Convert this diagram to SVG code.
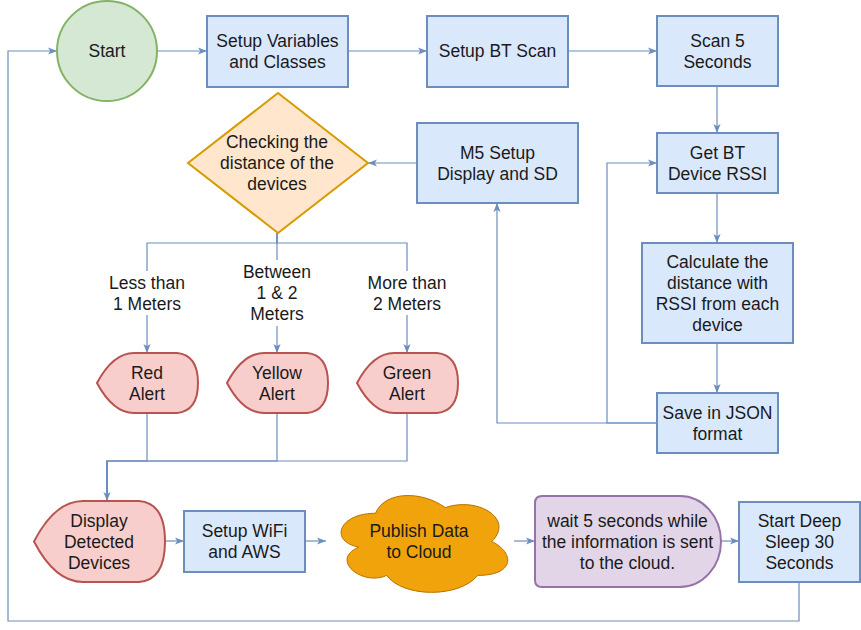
<svg xmlns="http://www.w3.org/2000/svg" width="861" height="630" viewBox="0 0 861 630">
<defs>
<style>
.box{fill:#dae8fc;stroke:#6c8ebf;stroke-width:2}
.alert{fill:#f8cecc;stroke:#b85450;stroke-width:2}
.edge{fill:none;stroke:#6c8ebf;stroke-width:1.2}
text{font-family:"Liberation Sans",Arial,Helvetica,sans-serif;font-size:17.5px;fill:#1a1a1a;text-anchor:middle}
.lbl{fill:#ffffff;stroke:none}
</style>
<marker id="arr" viewBox="0 0 10 10" refX="10" refY="5" markerWidth="9" markerHeight="9" markerUnits="userSpaceOnUse" orient="auto">
<path d="M0,1 L10,5 L0,9 L2.5,5 Z" fill="#6c8ebf"/>
</marker>
</defs>
<rect width="861" height="630" fill="#ffffff"/>

<g id="connectors">
<path class="edge" d="M157,51 H207" marker-end="url(#arr)"/>
<path class="edge" d="M348,51 H427" marker-end="url(#arr)"/>
<path class="edge" d="M568,51 H657" marker-end="url(#arr)"/>
<path class="edge" d="M717,86 V133" marker-end="url(#arr)"/>
<path class="edge" d="M717,193 V243" marker-end="url(#arr)"/>
<path class="edge" d="M717,343 V393" marker-end="url(#arr)"/>
<path class="edge" d="M657,423 H497 V203" marker-end="url(#arr)"/>
<path class="edge" d="M657,423 H607 V163 H657" marker-end="url(#arr)"/>
<path class="edge" d="M417,163 H368" marker-end="url(#arr)"/>
<path class="edge" d="M277,233 V243 H147 V353" marker-end="url(#arr)"/>
<path class="edge" d="M277,233 V353" marker-end="url(#arr)"/>
<path class="edge" d="M277,233 V243 H407 V353" marker-end="url(#arr)"/>
<path class="edge" d="M147,413 V461 H107 V501"/>
<path class="edge" d="M277,413 V461 H107 V501"/>
<path class="edge" d="M407,413 V461 H107 V501" marker-end="url(#arr)"/>
<path class="edge" d="M107,461 V498" style="stroke-width:2"/>
<path class="edge" d="M165,541 H184" marker-end="url(#arr)"/>
<path class="edge" d="M305,541 H326" marker-end="url(#arr)"/>
<path class="edge" d="M514,541 H535" marker-end="url(#arr)"/>
<path class="edge" d="M721,541 H739" marker-end="url(#arr)"/>
<path class="edge" d="M799,582 V621 H8 V51 H57" marker-end="url(#arr)"/>
<g id="edge-labels">
<rect class="lbl" x="106" y="271" width="82" height="44"/>
<text x="147" y="288.5">Less than</text>
<text x="147" y="309.5">1 Meters</text>
<rect class="lbl" x="238" y="260" width="78" height="66"/>
<text x="277" y="278">Between</text>
<text x="277" y="299">1 &amp; 2</text>
<text x="277" y="320">Meters</text>
<rect class="lbl" x="362" y="271" width="90" height="44"/>
<text x="407" y="288.5">More than</text>
<text x="407" y="309.5">2 Meters</text>
</g>
</g>

<g id="start">
<circle cx="107" cy="51" r="50" fill="#d5e8d4" stroke="#82b366" stroke-width="2"/>
<text x="107" y="57">Start</text>
</g>
<g id="setup-variables">
<rect class="box" x="207" y="16" width="141" height="71"/>
<text x="277.5" y="46.5">Setup Variables</text>
<text x="277.5" y="67.5">and Classes</text>
</g>
<g id="setup-bt-scan">
<rect class="box" x="427" y="16" width="141" height="71"/>
<text x="497.5" y="57">Setup BT Scan</text>
</g>
<g id="scan-5">
<rect class="box" x="657" y="16" width="121" height="70"/>
<text x="717.5" y="46.5">Scan 5</text>
<text x="717.5" y="67.5">Seconds</text>
</g>
<g id="get-bt-rssi">
<rect class="box" x="657" y="133" width="121" height="60"/>
<text x="717.5" y="158.5">Get BT</text>
<text x="717.5" y="179.5">Device RSSI</text>
</g>
<g id="m5-setup">
<rect class="box" x="417" y="123" width="161" height="80"/>
<text x="497.5" y="158.5">M5 Setup</text>
<text x="497.5" y="179.5">Display and SD</text>
</g>
<g id="calculate">
<rect class="box" x="642" y="243" width="151" height="100"/>
<text x="717.5" y="267.5">Calculate the</text>
<text x="717.5" y="288.5">distance with</text>
<text x="717.5" y="309.5">RSSI from each</text>
<text x="717.5" y="330.5">device</text>
</g>
<g id="save-json">
<rect class="box" x="657" y="393" width="121" height="60"/>
<text x="717.5" y="418.5">Save in JSON</text>
<text x="717.5" y="439.5">format</text>
</g>
<g id="checking">
<path d="M278,93 L368,163 L278,233 L188,163 Z" fill="#ffe6cc" stroke="#d79b00" stroke-width="2"/>
<text x="277" y="148">Checking the</text>
<text x="277" y="169">distance of the</text>
<text x="277" y="190">devices</text>
</g>
<g id="red-alert">
<path class="alert" d="M97,383 Q113,353 134,353 L177,353 Q198,355 198,383 Q198,411 177,413 L134,413 Q113,413 97,383 Z"/>
<text x="147" y="378.5">Red</text>
<text x="147" y="399.5">Alert</text>
</g>
<g id="yellow-alert">
<path class="alert" d="M227,383 Q243,353 264,353 L307,353 Q328,355 328,383 Q328,411 307,413 L264,413 Q243,413 227,383 Z"/>
<text x="277" y="378.5">Yellow</text>
<text x="277" y="399.5">Alert</text>
</g>
<g id="green-alert">
<path class="alert" d="M357,383 Q373,353 394,353 L437,353 Q458,355 458,383 Q458,411 437,413 L394,413 Q373,413 357,383 Z"/>
<text x="407" y="378.5">Green</text>
<text x="407" y="399.5">Alert</text>
</g>
<g id="display-detected">
<path class="alert" d="M34,541.5 Q55,501 83,501 L139,501 Q165,503 165,541.5 Q165,580 139,582 L83,582 Q55,582 34,541.5 Z"/>
<text x="99" y="526.5">Display</text>
<text x="99" y="547.5">Detected</text>
<text x="99" y="568.5">Devices</text>
</g>
<g id="setup-wifi">
<rect class="box" x="184" y="511" width="121" height="61"/>
<text x="244.5" y="537">Setup WiFi</text>
<text x="244.5" y="558">and AWS</text>
</g>
<g id="publish-cloud">
<path d="M375.5,513.25 C338.3,513.25 329,541.5 358.76,547.15 C329,559.58 362.48,586.7 386.66,575.4 C403.4,598 459.2,598 477.8,575.4 C515,575.4 515,552.8 491.75,541.5 C515,518.9 477.8,496.3 445.25,507.6 C422,490.65 384.8,490.65 375.5,513.25 Z" fill="#f0a30a" stroke="#bd7000" stroke-width="1"/>
<text x="419" y="536.5">Publish Data</text>
<text x="419" y="557.5">to Cloud</text>
</g>
<g id="wait">
<path d="M542,496 H680 A41,45.5 0 0 1 680,587 H542 Q535,587 535,580 V503 Q535,496 542,496 Z" fill="#e1d5e7" stroke="#9673a6" stroke-width="2"/>
<text x="627.5" y="526.5">wait 5 seconds while</text>
<text x="627.5" y="547.5">the information is sent</text>
<text x="627.5" y="568.5">to the cloud.</text>
</g>
<g id="deep-sleep">
<rect class="box" x="739" y="502" width="121" height="80"/>
<text x="799.5" y="527">Start Deep</text>
<text x="799.5" y="548">Sleep 30</text>
<text x="799.5" y="569">Seconds</text>
</g>
</svg>
